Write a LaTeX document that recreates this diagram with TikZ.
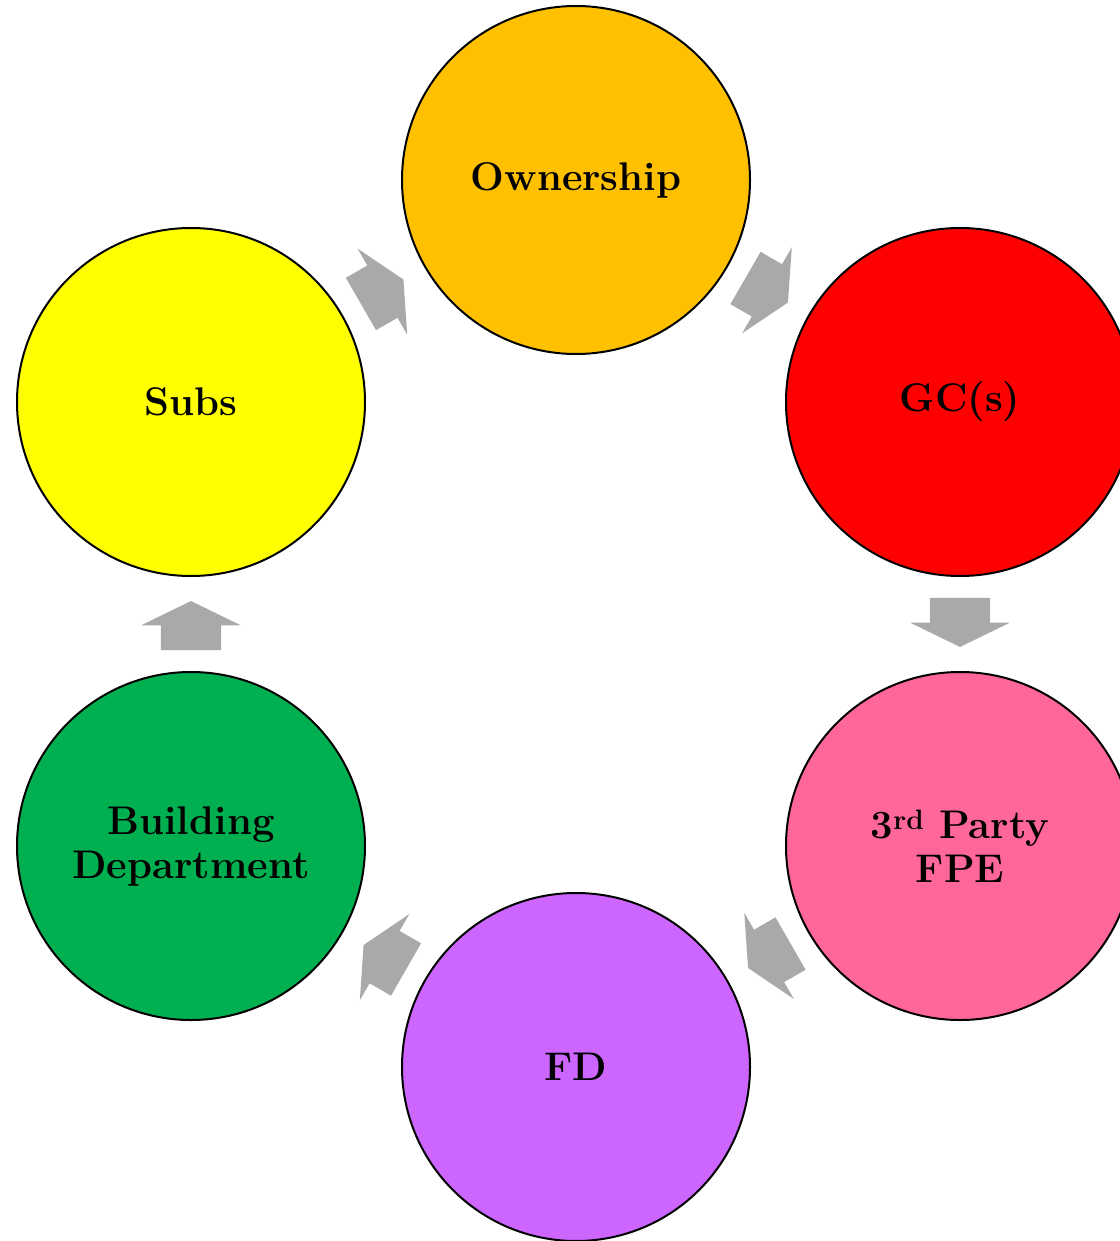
\documentclass[tikz,border=0pt]{standalone}
\usepackage{tikz}
\usetikzlibrary{shapes.arrows}

\definecolor{ownorange}{HTML}{FFC000}
\definecolor{gcred}{HTML}{FF0000}
\definecolor{fpepink}{HTML}{FF6699}
\definecolor{fdviolet}{HTML}{CC66FF}
\definecolor{bldgreen}{HTML}{00B050}
\definecolor{subsyellow}{HTML}{FFFF00}
\definecolor{flowgray}{HTML}{A9A9A9}

\tikzset{
  party/.style={circle, draw=black, line width=2pt, minimum size=348pt,
    inner sep=0pt, align=center, font=\fontsize{40}{44}\selectfont\bfseries},
  flow/.style={single arrow, fill=flowgray, draw=none, inner xsep=0pt,
    inner ysep=30pt, minimum height=49pt, single arrow head extend=19.5pt,
    single arrow tip angle=128, pos=0.48, sloped, allow upside down}
}

\begin{document}
\begin{tikzpicture}[x=1pt,y=-1pt]
\useasboundingbox (0,0) rectangle (1119,1241);

% the six parties, clockwise from the top
\node[party, fill=ownorange] (own) at (576,180) {Ownership};
\node[party, fill=gcred] (gc) at (960,402) {GC(s)};
\node[party, fill=fpepink] (fpe) at (960,846) {3\textsuperscript{rd} Party\\FPE};
\node[party, fill=fdviolet] (fd) at (576,1067) {FD};
\node[party, fill=bldgreen] (bld) at (191,846) {Building\\Department};
\node[party, fill=subsyellow] (subs) at (191,402) {Subs};

% block arrows between the centres
\path (own.center) -- node[flow] (a1) {} (gc.center);
\path (gc.center) -- node[flow] (a2) {} (fpe.center);
\path (fpe.center) -- node[flow] (a3) {} (fd.center);
\path (fd.center) -- node[flow] (a4) {} (bld.center);
\path (bld.center) -- node[flow] (a5) {} (subs.center);
\path (subs.center) -- node[flow] (a6) {} (own.center);

\end{tikzpicture}
\end{document}
